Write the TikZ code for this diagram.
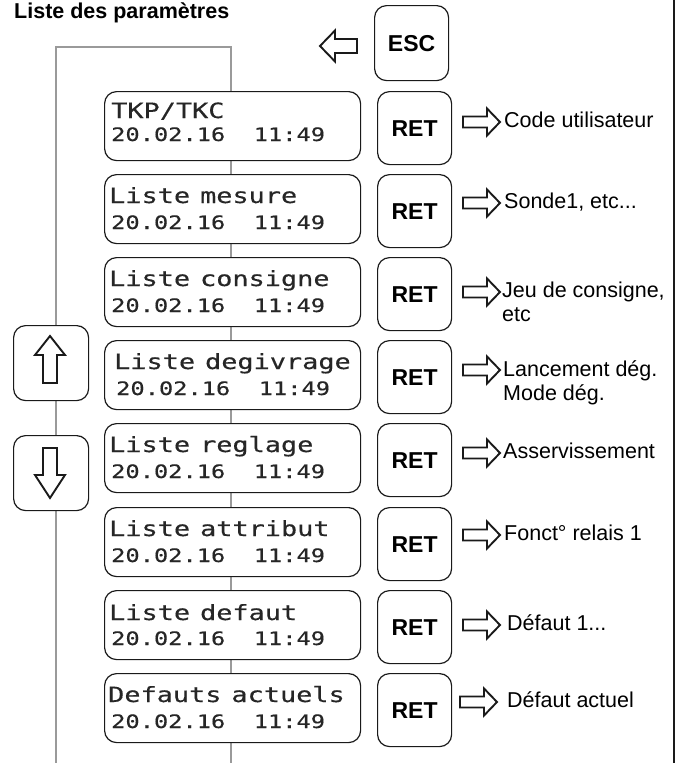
\documentclass[tikz,border=0pt]{standalone}
\usepackage{fontspec}
\setmainfont{Liberation Sans}
\newfontfamily\lcdfont[FakeStretch=1.28, FakeBold=0.35]{DejaVu Sans Mono}
\usetikzlibrary{calc}

\definecolor{keyline}{HTML}{1A1A1A}
\definecolor{frameline}{HTML}{9A9A9A}
\definecolor{lcdink}{HTML}{262626}

\tikzset{
  keybox/.style={draw=keyline, line width=1.2pt, rounded corners=12pt, fill=white,
    minimum width=74pt, minimum height=74pt, inner sep=0pt, anchor=north west,
    font=\fontsize{23}{27}\selectfont\bfseries},
  lcdbox/.style={draw=keyline, line width=1.2pt, rounded corners=12pt, fill=white,
    minimum width=256pt, minimum height=69pt, inner sep=0pt, anchor=north west},
  lcdtop/.style={anchor=base west, inner sep=0pt, text=lcdink,
    font=\lcdfont\fontsize{21}{24}\selectfont},
  lcdbot/.style={anchor=base west, inner sep=0pt, text=lcdink,
    font=\lcdfont\fontsize{18.5}{22}\selectfont},
  outtext/.style={anchor=base west, inner sep=0pt, font=\fontsize{21.5}{25}\selectfont},
  arrowline/.style={draw=keyline, line width=1.9pt, fill=white, line join=miter},
  % hollow block arrow pointing along +x: {length}{head length}{head breadth}{shaft breadth}
  pics/hollow/.style n args={4}{code={
    \draw[arrowline] ({-#1/2},{-#4/2}) -- ({#1/2-#2},{-#4/2}) -- ({#1/2-#2},{-#3/2})
      -- ({#1/2},0) -- ({#1/2-#2},{#3/2}) -- ({#1/2-#2},{#4/2}) -- ({-#1/2},{#4/2}) -- cycle;
  }},
}
\newcommand{\lcdgap}{\hspace{10pt}}

\begin{document}
\begin{tikzpicture}[x=1pt, y=-1pt]
\useasboundingbox (0,0) rectangle (682,763);

% title
\node[anchor=base west, inner sep=0pt, font=\bfseries\fontsize{21.5}{25}\selectfont] (title) at (14,18) {Liste des paramètres};

% navigation frame behind the displays
\draw[frameline, line width=1.3pt] (56,763) -- (56,47) -- (231,47) -- (231,763);
% right margin rule
\draw[keyline, line width=1.4pt] (674,0) -- (674,763);

% escape key and its arrow
\node[keybox, minimum height=75pt] (esc) at (374,5) {ESC};
\pic[rotate=180] at (338.5,46) {hollow={37}{15}{31}{14}};

% up / down keys
\node[keybox, minimum width=75pt, minimum height=75pt] (up) at (13,325) {};
\node[keybox, minimum width=75pt, minimum height=75pt] (down) at (13,435) {};
\pic[rotate=90] at (50,359.5) {hollow={47}{19}{30}{14}};
\pic[rotate=-90] at (50,473) {hollow={50}{23}{30}{14}};

% displays
\node[lcdbox] (lcd1) at (104,91) {};
\node[lcdbox] (lcd2) at (104,174) {};
\node[lcdbox] (lcd3) at (104,257) {};
\node[lcdbox] (lcd4) at (104,340) {};
\node[lcdbox] (lcd5) at (104,423) {};
\node[lcdbox] (lcd6) at (104,507) {};
\node[lcdbox] (lcd7) at (104,590) {};
\node[lcdbox] (lcd8) at (104,673) {};

\node[lcdtop] (d1a) at (111,118) {TKP/TKC};
\node[lcdbot] (d1b) at (111,141) {20.02.16\ \ 11:49};
\node[lcdtop] (d2a) at (109,203) {Liste\lcdgap mesure};
\node[lcdbot] (d2b) at (111,229) {20.02.16\ \ 11:49};
\node[lcdtop] (d3a) at (109,286) {Liste\lcdgap consigne};
\node[lcdbot] (d3b) at (111,312) {20.02.16\ \ 11:49};
\node[lcdtop] (d4a) at (114,369) {Liste\lcdgap degivrage};
\node[lcdbot] (d4b) at (116,395) {20.02.16\ \ 11:49};
\node[lcdtop] (d5a) at (109,452) {Liste\lcdgap reglage};
\node[lcdbot] (d5b) at (111,478) {20.02.16\ \ 11:49};
\node[lcdtop] (d6a) at (109,536) {Liste\lcdgap attribut};
\node[lcdbot] (d6b) at (111,562) {20.02.16\ \ 11:49};
\node[lcdtop] (d7a) at (109,620) {Liste\lcdgap defaut};
\node[lcdbot] (d7b) at (111,645) {20.02.16\ \ 11:49};
\node[lcdtop] (d8a) at (108,702) {Defauts\lcdgap actuels};
\node[lcdbot] (d8b) at (111,728) {20.02.16\ \ 11:49};

% return keys
\node[keybox, minimum height=73pt] (ret1) at (377,91) {RET};
\node[keybox, minimum height=73pt] (ret2) at (377,174) {RET};
\node[keybox, minimum height=73pt] (ret3) at (377,257) {RET};
\node[keybox, minimum height=73pt] (ret4) at (377,340) {RET};
\node[keybox, minimum height=73pt] (ret5) at (377,423) {RET};
\node[keybox, minimum height=73pt] (ret6) at (377,507) {RET};
\node[keybox, minimum height=73pt] (ret7) at (377,590) {RET};
\node[keybox, minimum height=73pt] (ret8) at (377,673) {RET};

% arrows towards the sub-menus
\pic at (481.5,122) {hollow={37}{13}{27}{11}};
\pic at (481.5,203) {hollow={37}{13}{27}{11}};
\pic at (481.5,292) {hollow={37}{13}{27}{11}};
\pic at (481.5,370) {hollow={37}{13}{27}{11}};
\pic at (481.5,453) {hollow={37}{13}{27}{11}};
\pic at (481.5,535) {hollow={37}{13}{27}{11}};
\pic at (481.5,625) {hollow={37}{13}{27}{11}};
\pic at (478.5,702) {hollow={37}{13}{27}{11}};

% sub-menu entries
\node[outtext] (s1) at (504,127) {Code utilisateur};
\node[outtext] (s2) at (504,208) {Sonde1, etc...};
\node[outtext] (s3a) at (502,297) {Jeu de consigne,};
\node[outtext] (s3b) at (502,321) {etc};
\node[outtext] (s4a) at (503,376) {Lancement dég.};
\node[outtext] (s4b) at (503,400) {Mode dég.};
\node[outtext] (s5) at (503,458) {Asservissement};
\node[outtext] (s6) at (504,540) {Fonct° relais 1};
\node[outtext] (s7) at (507,630) {Défaut 1...};
\node[outtext] (s8) at (507,707) {Défaut actuel};
\end{tikzpicture}
\end{document}
